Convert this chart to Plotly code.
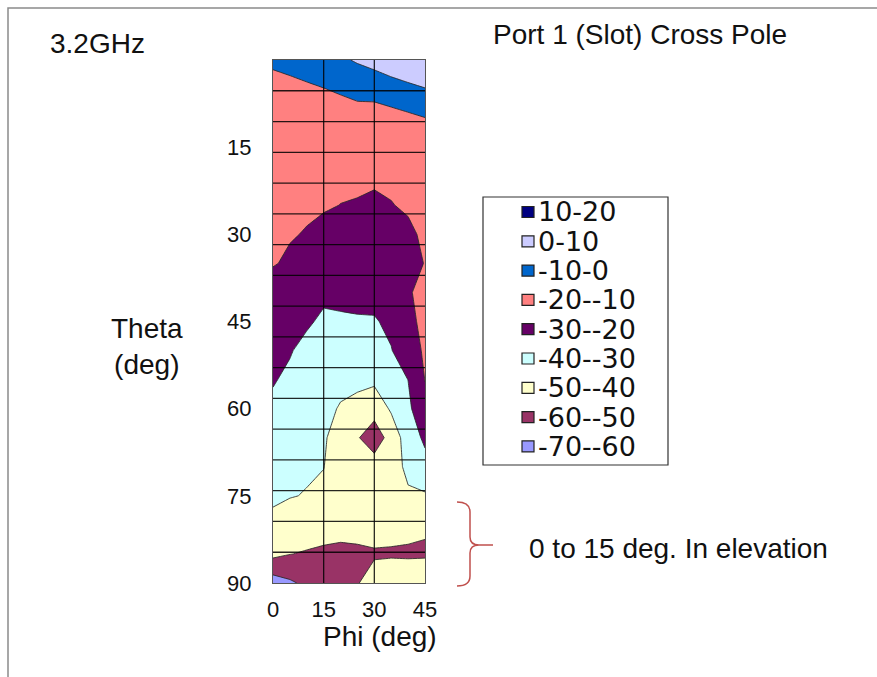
import plotly.graph_objects as go

# ---------------- data ----------------
phi = [0, 5, 10, 15, 20, 25, 30, 35, 40, 45]
theta = [0, 5, 10, 15, 20, 25, 30, 35, 40, 45, 50, 55, 60, 65, 70, 75, 80, 85, 90]
z_rows = [
    [-8.0, -7.0, -6.0, -5.0, -1.5, 1.0, 3.0, 4.0, 4.5, 6.0],
    [-14.0, -12.6, -11.3, -10.2, -9.0, -7.3, -5.8, -2.9, -1.3, -0.25],
    [-15.0, -14.0, -13.0, -12.0, -14.0, -13.7, -15.3, -14.35, -12.2, -10.2],
    [-16.0, -15.5, -15.0, -14.0, -16.0, -16.0, -17.5, -17.0, -15.0, -13.0],
    [-17.0, -17.0, -17.0, -16.5, -18.5, -19.0, -19.3, -19.0, -17.5, -15.0],
    [-18.0, -18.5, -19.0, -19.2, -20.1, -20.35, -20.8, -20.2, -19.3, -17.0],
    [-19.0, -19.5, -20.4, -22.3, -23.0, -23.0, -23.0, -23.0, -21.1, -19.0],
    [-19.5, -21.1, -23.0, -25.0, -26.0, -26.0, -26.0, -25.5, -22.0, -19.8],
    [-23.7, -24.0, -26.0, -28.5, -28.5, -28.8, -28.5, -27.0, -21.0, -17.0],
    [-26.0, -27.0, -29.0, -31.3, -30.8, -30.4, -30.4, -29.0, -24.0, -16.0],
    [-28.0, -29.5, -32.1, -34.0, -34.0, -35.0, -34.0, -30.2, -27.0, -18.0],
    [-29.5, -31.3, -35.0, -36.5, -38.0, -39.0, -38.5, -35.0, -29.9, -19.8],
    [-31.4, -34.0, -37.0, -38.0, -40.6, -41.3, -45.0, -39.0, -32.0, -22.3],
    [-34.0, -36.0, -38.5, -39.0, -44.0, -49.0, -57.0, -45.0, -36.0, -28.0],
    [-37.0, -38.0, -39.5, -39.8, -45.0, -46.0, -44.0, -42.0, -39.0, -33.6],
    [-39.3, -39.8, -40.2, -42.0, -45.0, -44.0, -43.0, -43.0, -40.6, -41.0],
    [-41.1, -42.3, -45.0, -46.0, -47.0, -46.0, -46.0, -47.0, -48.0, -49.0],
    [-47.6, -49.8, -50.8, -51.7, -52.0, -52.0, -51.0, -51.0, -51.0, -51.0],
    [-64.8, -61.4, -58.0, -57.0, -56.0, -50.5, -46.0, -44.0, -45.0, -44.0],
]
band_labels = ["10-20", "0-10", "-10-0", "-20--10", "-30--20",
               "-40--30", "-50--40", "-60--50", "-70--60"]
band_colors = ["#000080", "#CCCCFF", "#0066CC", "#FF8080", "#660066",
               "#CCFFFF", "#FFFFCC", "#993366", "#9999FF"]
x_ticks = [0, 15, 30, 45]
y_ticks = [15, 30, 45, 60, 75, 90]
x_grid = [15, 30]

# ---------------- layout geometry (pixels) ----------------
W_FIG, H_FIG = 877, 677
L, T, W, H = 273, 60, 152, 523


def px(x):
    return (x - L) / W


def py(y):
    return (T + H - y) / H


FONT = "Liberation Sans, Arial, sans-serif"

# stepwise colorscale, low band first
low_to_high = band_colors[::-1]
n = len(low_to_high)
colorscale = []
for i, c in enumerate(low_to_high):
    colorscale.append([i / n, c])
    colorscale.append([(i + 1) / n, c])

fig = go.Figure()
fig.add_trace(go.Contour(
    x=phi, y=theta, z=z_rows,
    autocontour=False,
    contours=dict(start=-60, end=20, size=10, coloring="fill"),
    colorscale=colorscale,
    showscale=False,
    line=dict(color="rgba(40,40,40,0.85)", width=1, smoothing=0),
    hoverinfo="skip",
))

shapes = []
# grid lines on top of the fills
for gx in x_grid:
    shapes.append(dict(type="line", xref="x", yref="y", x0=gx, x1=gx, y0=0, y1=90,
                       line=dict(color="rgba(0,0,0,0.85)", width=1.3), layer="above"))
n_rows = 17
for k in range(1, n_rows):
    gy = k * 90 / n_rows
    shapes.append(dict(type="line", xref="x", yref="y", x0=0, x1=45, y0=gy, y1=gy,
                       line=dict(color="rgba(0,0,0,0.85)", width=1.3), layer="above"))

# outer frame of the slide
shapes.append(dict(type="path", xref="paper", yref="paper",
                   path=f"M {px(8)},{py(680)} L {px(8)},{py(8)} L {px(880)},{py(8)}",
                   line=dict(color="#8a8a8a", width=1.5)))

# legend box
lg_x0, lg_x1, lg_y0, lg_y1 = 483, 668, 197, 465
shapes.append(dict(type="rect", xref="paper", yref="paper",
                   x0=px(lg_x0), x1=px(lg_x1), y0=py(lg_y0), y1=py(lg_y1),
                   line=dict(color="#333333", width=1.2), fillcolor="white"))
annotations = []
step = 29.3
for i, (lab, col) in enumerate(zip(band_labels, band_colors)):
    cy = 212 + i * step
    shapes.append(dict(type="rect", xref="paper", yref="paper",
                       x0=px(522), x1=px(534), y0=py(cy - 5.5), y1=py(cy + 5.5),
                       line=dict(color="#222222", width=1.2), fillcolor=col))
    annotations.append(dict(text=lab, xref="paper", yref="paper",
                            x=px(536), y=py(cy), xanchor="left", yanchor="middle",
                            showarrow=False,
                            font=dict(family="DejaVu Sans, sans-serif", size=27, color="#111111")))

# bracket
bx, by0, bym, by1 = 470, 502, 545, 586
bpath = (f"M {px(457)},{py(by0)} Q {px(bx)},{py(by0)} {px(bx)},{py(by0 + 10)} "
         f"L {px(bx)},{py(bym - 8)} Q {px(bx)},{py(bym)} {px(bx + 9)},{py(bym)} "
         f"Q {px(bx)},{py(bym)} {px(bx)},{py(bym + 8)} "
         f"L {px(bx)},{py(by1 - 10)} Q {px(bx)},{py(by1)} {px(457)},{py(by1)} "
         f"M {px(bx + 9)},{py(bym)} L {px(493)},{py(bym)}")
shapes.append(dict(type="path", xref="paper", yref="paper", path=bpath,
                   line=dict(color="#C0504D", width=1.5)))

big = dict(family=FONT, size=28, color="#111111")
annotations += [
    dict(text="3.2GHz", x=px(97), y=py(43), xref="paper", yref="paper",
         showarrow=False, font=big, xanchor="center", yanchor="middle"),
    dict(text="Port 1 (Slot) Cross Pole", x=px(640), y=py(35), xref="paper", yref="paper",
         showarrow=False, font=big, xanchor="center", yanchor="middle"),
    dict(text="Theta<br>(deg)", x=px(147), y=py(346), xref="paper", yref="paper",
         showarrow=False, font=big, xanchor="center", yanchor="middle"),
    dict(text="Phi (deg)", x=px(380), y=py(636), xref="paper", yref="paper",
         showarrow=False, font=big, xanchor="center", yanchor="middle"),
    dict(text="0 to 15 deg. In elevation", x=px(527), y=py(548), xref="paper", yref="paper",
         showarrow=False, font=big, xanchor="left", yanchor="middle"),
]

fig.update_layout(
    width=W_FIG, height=H_FIG,
    margin=dict(l=L, r=W_FIG - L - W, t=T, b=H_FIG - T - H, pad=0),
    paper_bgcolor="white", plot_bgcolor="white",
    showlegend=False,
    shapes=shapes, annotations=annotations,
    xaxis=dict(range=[0, 45], tickvals=x_ticks, ticktext=[str(v) for v in x_ticks],
               showgrid=False, zeroline=False, ticks="outside", ticklen=6,
               tickcolor="rgba(0,0,0,0)", showline=True, linecolor="#555555",
               linewidth=1.2, mirror=True,
               tickfont=dict(family=FONT, size=22, color="#111111")),
    yaxis=dict(range=[90, 0], tickvals=y_ticks, ticktext=[str(v) for v in y_ticks],
               showgrid=False, zeroline=False, ticks="outside", ticklen=16,
               tickcolor="rgba(0,0,0,0)", showline=True, linecolor="#555555",
               linewidth=1.2, mirror=True,
               tickfont=dict(family=FONT, size=22, color="#111111")),
)

fig.write_html("out.html")
